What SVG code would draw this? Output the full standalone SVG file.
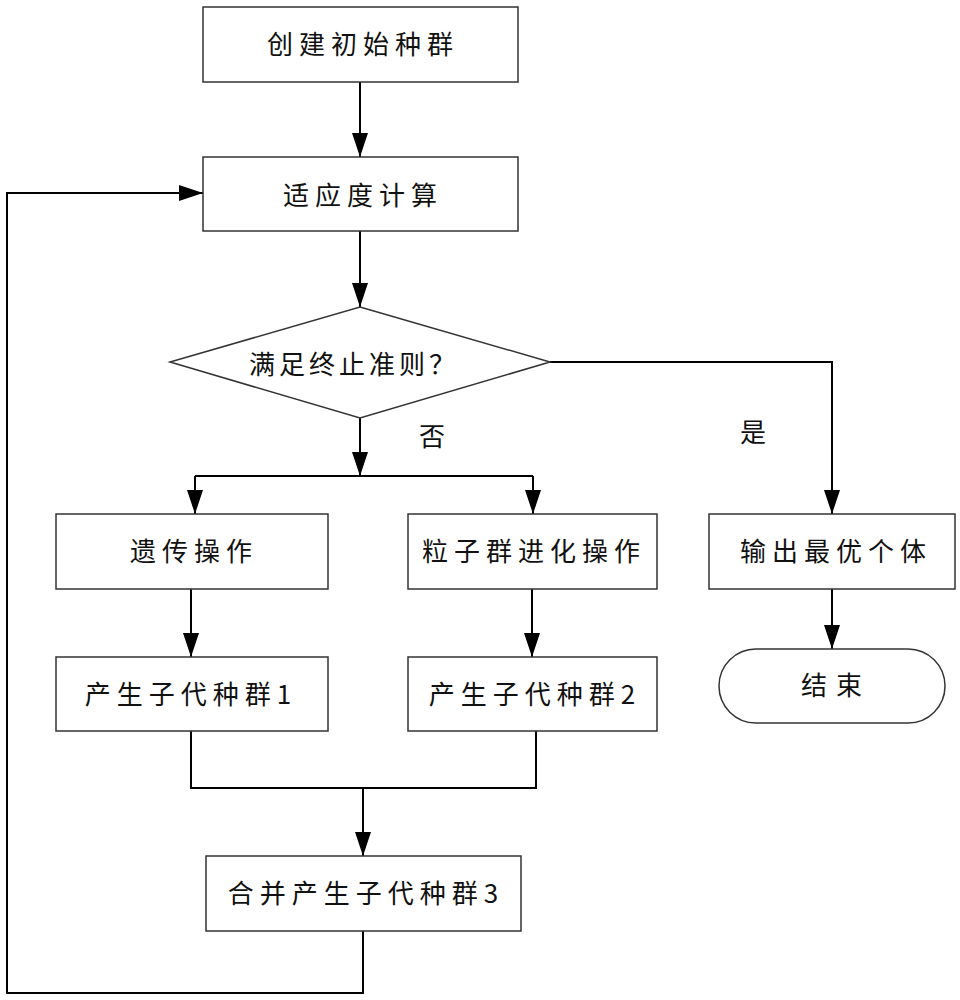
<svg xmlns="http://www.w3.org/2000/svg" width="960" height="1000" viewBox="0 0 960 1000">
<style>
.box{fill:#fff;stroke:#333;stroke-width:1.5}
.t{font-family:"Noto Sans CJK SC","Liberation Sans",sans-serif;font-size:26px;letter-spacing:6px;fill:#111;text-anchor:middle;dominant-baseline:central}
.c{fill:none;stroke:#000;stroke-width:2}
.a{marker-end:url(#arr)}
</style>
<defs>
<marker id="arr" viewBox="0 0 24 16" refX="24" refY="8" markerWidth="24" markerHeight="16" markerUnits="userSpaceOnUse" orient="auto">
<path d="M0,0 L24,8 L0,16 Z" fill="#000"/>
</marker>
</defs>
<rect width="960" height="1000" fill="#fff"/>
<g id="connectors">
<path class="c a" d="M360,82 V157"/>
<path class="c a" d="M360,231 V307"/>
<path class="c a" d="M363,931 V993 H7 V193 H203"/>
<path class="c a" d="M360,418 V476"/>
<path class="c" d="M195,476 H533"/>
<path class="c a" d="M195,476 V514"/>
<path class="c a" d="M533,476 V514"/>
<path class="c a" d="M191,589 V657"/>
<path class="c a" d="M532,589 V657"/>
<path class="c" d="M191,731 V788 H536 V731"/>
<path class="c a" d="M363,788 V856"/>
<path class="c a" d="M550,362 H832 V514"/>
<path class="c a" d="M832,589 V649"/>
<text class="t" x="435" y="434">否</text>
<text class="t" x="756" y="430">是</text>
</g>
<g id="n1"><rect class="box" x="203" y="7" width="315" height="75"/><text class="t" x="363" y="42">创建初始种群</text></g>
<g id="n2"><rect class="box" x="203" y="157" width="315" height="74"/><text class="t" x="363" y="193">适应度计算</text></g>
<g id="n3"><polygon class="box" points="360,307 550,362 360,418 170,362"/><text class="t" x="354" y="362" style="letter-spacing:4px">满足终止准则？</text></g>
<g id="n4"><rect class="box" x="56" y="514" width="272" height="75"/><text class="t" x="194" y="549">遗传操作</text></g>
<g id="n5"><rect class="box" x="408" y="514" width="249" height="75"/><text class="t" x="534" y="549">粒子群进化操作</text></g>
<g id="n6"><rect class="box" x="56" y="657" width="272" height="74"/><text class="t" x="191" y="692">产生子代种群1</text></g>
<g id="n7"><rect class="box" x="408" y="657" width="249" height="74"/><text class="t" x="535" y="692">产生子代种群2</text></g>
<g id="n8"><rect class="box" x="206" y="856" width="315" height="75"/><text class="t" x="366" y="891">合并产生子代种群3</text></g>
<g id="n9"><rect class="box" x="709" y="514" width="246" height="75"/><text class="t" x="836" y="549">输出最优个体</text></g>
<g id="n10"><rect class="box" x="719" y="649" width="226" height="74" rx="37" ry="37"/><text class="t" x="836" y="683" style="letter-spacing:9px">结束</text></g>
</svg>
